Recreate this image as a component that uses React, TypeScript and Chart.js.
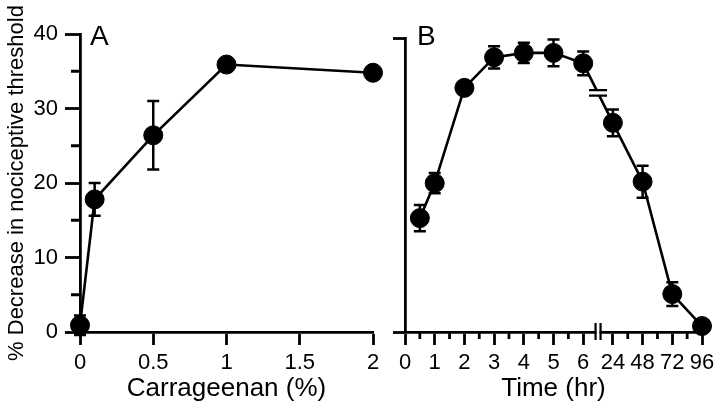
import React, { useEffect, useRef } from 'react';
import { Chart, registerables } from 'chart.js';
Chart.register(...registerables);

const FONT = "'Liberation Sans', Arial, Helvetica, sans-serif";

// ---- Panel A: dose response ----
const doseX = [0, 0.1, 0.5, 1, 2];
const doseY = [0.9, 17.8, 26.4, 35.9, 34.8];
const doseErr = [1.3, 2.2, 4.6, 0.8, 0];
const doseTicks = [0, 0.5, 1, 1.5, 2];
const yMajorTicks = [0, 10, 20, 30, 40];
const yMinorTicks = [5, 15, 25, 35];

// ---- Panel B: time course ----
const timeHours = [0.5, 1, 2, 3, 4, 5, 6, 24, 48, 72, 96];
const timeY = [15.3, 20.0, 32.8, 36.9, 37.5, 37.5, 36.1, 28.1, 20.2, 5.1, 0.8];
const timeErr = [1.75, 1.35, 0.6, 1.5, 1.35, 1.8, 1.6, 1.8, 2.15, 1.6, 0.6];
const timeTickLabels = ['0', '1', '2', '3', '4', '5', '6', '24', '48', '72', '96'];
const timeMinorTicks = [0.5, 1.5, 2.5, 3.5, 4.5, 5.5, 7.5, 8.5, 9.5];
const timeBreakAt = 6.5;

// broken axis: 0..6 h linear, then 24 h per unit
const hourToAxis = (h: number) => (h <= 6 ? h : 7 + (h - 24) / 24);

const TICK_FONT = 22;
const TITLE_FONT = 26;
const AXIS_W = 2.8;

type DecorOpts = {
  letter: string;
  letterDx: number;
  xs: number[];
  ys: number[];
  errs: number[];
  yMinor: number[];
  yMinorLen: number;
  xMinor: number[];
  xMinorLen: number;
  breakAt?: number;
};

function makeDecor(o: DecorOpts) {
  return {
    id: 'decor' + o.letter,
    afterDraw(chart: any) {
      const ctx = chart.ctx as CanvasRenderingContext2D;
      const xs = chart.scales.x;
      const ys = chart.scales.y;
      const area = chart.chartArea;
      ctx.save();
      ctx.strokeStyle = '#000';
      ctx.fillStyle = '#000';
      // minor ticks
      ctx.lineWidth = AXIS_W;
      ctx.beginPath();
      o.yMinor.forEach((v) => {
        const py = ys.getPixelForValue(v);
        ctx.moveTo(area.left, py);
        ctx.lineTo(area.left - o.yMinorLen, py);
      });
      o.xMinor.forEach((v) => {
        const px = xs.getPixelForValue(v);
        ctx.moveTo(px, area.bottom);
        ctx.lineTo(px, area.bottom + o.xMinorLen);
      });
      ctx.stroke();
      // error bars
      ctx.lineWidth = 2.5;
      ctx.beginPath();
      o.xs.forEach((xv, i) => {
        const e = o.errs[i];
        if (!e) return;
        const px = xs.getPixelForValue(xv);
        const y1 = ys.getPixelForValue(o.ys[i] + e);
        const y2 = ys.getPixelForValue(o.ys[i] - e);
        ctx.moveTo(px, y1);
        ctx.lineTo(px, y2);
        ctx.moveTo(px - 6, y1);
        ctx.lineTo(px + 6, y1);
        ctx.moveTo(px - 6, y2);
        ctx.lineTo(px + 6, y2);
      });
      ctx.stroke();
      // axis break
      if (o.breakAt !== undefined) {
        const bx = xs.getPixelForValue(o.breakAt);
        const by = area.bottom;
        ctx.fillStyle = '#fff';
        ctx.fillRect(bx - 1.5, by - 8, 3, 16);
        ctx.lineWidth = 2.2;
        ctx.beginPath();
        ctx.moveTo(bx - 2.5, by - 9);
        ctx.lineTo(bx - 2.5, by + 8);
        ctx.moveTo(bx + 2.5, by - 9);
        ctx.lineTo(bx + 2.5, by + 8);
        ctx.stroke();
        // break on data line
        const i = o.xs.findIndex((v) => v > o.breakAt!);
        if (i > 0) {
          const x0 = o.xs[i - 1], x1 = o.xs[i];
          const t = (o.breakAt - x0) / (x1 - x0);
          const yv = o.ys[i - 1] + (o.ys[i] - o.ys[i - 1]) * t;
          const ly = ys.getPixelForValue(yv);
          ctx.fillStyle = '#fff';
          ctx.fillRect(bx - 9, ly - 2, 18, 4);
          ctx.beginPath();
          ctx.moveTo(bx - 9, ly - 3);
          ctx.lineTo(bx + 9, ly - 3);
          ctx.moveTo(bx - 9, ly + 2.5);
          ctx.lineTo(bx + 9, ly + 2.5);
          ctx.stroke();
        }
      }
      // panel letter
      ctx.fillStyle = '#000';
      ctx.font = `28px ${FONT}`;
      ctx.textBaseline = 'alphabetic';
      ctx.textAlign = 'left';
      ctx.fillText(o.letter, area.left + o.letterDx, 45);
      ctx.restore();
    },
  };
}

const axisCommon = {
  border: { display: true, color: '#000', width: AXIS_W },
};

const gridCommon = {
  display: true,
  drawOnChartArea: false,
  drawTicks: true,
  tickWidth: AXIS_W,
  tickColor: '#000',
  color: '#000',
};

const datasetStyle = {
  borderColor: '#000',
  borderWidth: 2.6,
  pointRadius: 9.5,
  pointBackgroundColor: '#000',
  pointBorderColor: '#000',
  pointBorderWidth: 1,
  clip: false as any,
};

function PanelA() {
  const ref = useRef<HTMLCanvasElement>(null);
  useEffect(() => {
    const chart = new Chart(ref.current!, {
      type: 'line',
      data: {
        datasets: [
          {
            data: doseX.map((x, i) => ({ x, y: doseY[i] })),
            ...datasetStyle,
          },
        ],
      },
      options: {
        animation: false,
        responsive: false,
        devicePixelRatio: 1,
        layout: { padding: { top: 34, right: 17, left: 0, bottom: 0 } },
        plugins: { legend: { display: false }, tooltip: { enabled: false } },
        scales: {
          x: {
            type: 'linear',
            min: 0,
            max: 2,
            ...axisCommon,
            afterBuildTicks: (s: any) => {
              s.ticks = doseTicks.map((v) => ({ value: v }));
            },
            afterFit: (s: any) => {
              s.height = 78;
            },
            grid: { ...gridCommon, tickLength: 13 },
            ticks: {
              color: '#000',
              font: { family: FONT, size: TICK_FONT },
              padding: 5,
              maxRotation: 0,
              autoSkip: false,
              callback: (v: any) => String(v),
            },
            title: {
              display: true,
              text: 'Carrageenan (%)',
              color: '#000',
              font: { family: FONT, size: TITLE_FONT },
              padding: { top: 0, bottom: 6 },
            },
          },
          y: {
            type: 'linear',
            min: 0,
            max: 40,
            ...axisCommon,
            afterBuildTicks: (s: any) => {
              s.ticks = yMajorTicks.map((v) => ({ value: v }));
            },
            afterFit: (s: any) => {
              s.width = 80;
            },
            grid: { ...gridCommon, tickLength: 15 },
            ticks: {
              color: '#000',
              font: { family: FONT, size: TICK_FONT },
              padding: 7,
              callback: (v: any) => String(v),
            },
            title: {
              display: true,
              text: '% Decrease in nociceptive threshold',
              color: '#000',
              font: { family: FONT, size: 22 },
              padding: { top: 4, bottom: 0 },
            },
          },
        },
      },
      plugins: [
        makeDecor({
          letter: 'A',
          letterDx: 10,
          xs: doseX,
          ys: doseY,
          errs: doseErr,
          yMinor: yMinorTicks,
          yMinorLen: 9,
          xMinor: [],
          xMinorLen: 0,
        }),
      ],
    } as any);
    return () => chart.destroy();
  }, []);
  return <canvas ref={ref} width={390} height={410} />;
}

function PanelB() {
  const ref = useRef<HTMLCanvasElement>(null);
  useEffect(() => {
    const axX = timeHours.map(hourToAxis);
    const chart = new Chart(ref.current!, {
      type: 'line',
      data: {
        datasets: [
          {
            data: axX.map((x, i) => ({ x, y: timeY[i] })),
            ...datasetStyle,
          },
        ],
      },
      options: {
        animation: false,
        responsive: false,
        devicePixelRatio: 1,
        layout: { padding: { top: 38, right: 18, left: 0, bottom: 0 } },
        plugins: { legend: { display: false }, tooltip: { enabled: false } },
        scales: {
          x: {
            type: 'linear',
            min: 0,
            max: 10,
            ...axisCommon,
            afterBuildTicks: (s: any) => {
              s.ticks = timeTickLabels.map((_, i) => ({ value: i }));
            },
            afterFit: (s: any) => {
              s.height = 78;
            },
            grid: { ...gridCommon, tickLength: 13 },
            ticks: {
              color: '#000',
              font: { family: FONT, size: TICK_FONT },
              padding: 5,
              maxRotation: 0,
              autoSkip: false,
              callback: (v: any) => timeTickLabels[Math.round(Number(v))] ?? '',
            },
            title: {
              display: true,
              text: 'Time (hr)',
              color: '#000',
              font: { family: FONT, size: TITLE_FONT },
              padding: { top: 0, bottom: 6 },
            },
          },
          y: {
            type: 'linear',
            min: 0,
            max: 39.5,
            ...axisCommon,
            afterBuildTicks: (s: any) => {
              s.ticks = [{ value: 0 }, { value: 39.5 }];
            },
            afterFit: (s: any) => {
              s.width = 25;
            },
            grid: { ...gridCommon, tickLength: 12 },
            ticks: {
              color: '#000',
              font: { family: FONT, size: TICK_FONT },
              callback: () => '',
            },
          },
        },
      },
      plugins: [
        makeDecor({
          letter: 'B',
          letterDx: 12,
          xs: axX,
          ys: timeY,
          errs: timeErr,
          yMinor: [],
          yMinorLen: 0,
          xMinor: timeMinorTicks,
          xMinorLen: 7,
          breakAt: timeBreakAt,
        }),
      ],
    } as any);
    return () => chart.destroy();
  }, []);
  return <canvas ref={ref} width={340} height={410} />;
}

export default function App() {
  useEffect(() => {
    document.body.style.margin = '0';
    document.body.style.background = '#fff';
  }, []);
  return (
    <div style={{ position: 'relative', width: 720, height: 410, background: '#fff' }}>
      <div style={{ position: 'absolute', left: 0, top: 0 }}>
        <PanelA />
      </div>
      <div style={{ position: 'absolute', left: 380, top: 0 }}>
        <PanelB />
      </div>
    </div>
  );
}
